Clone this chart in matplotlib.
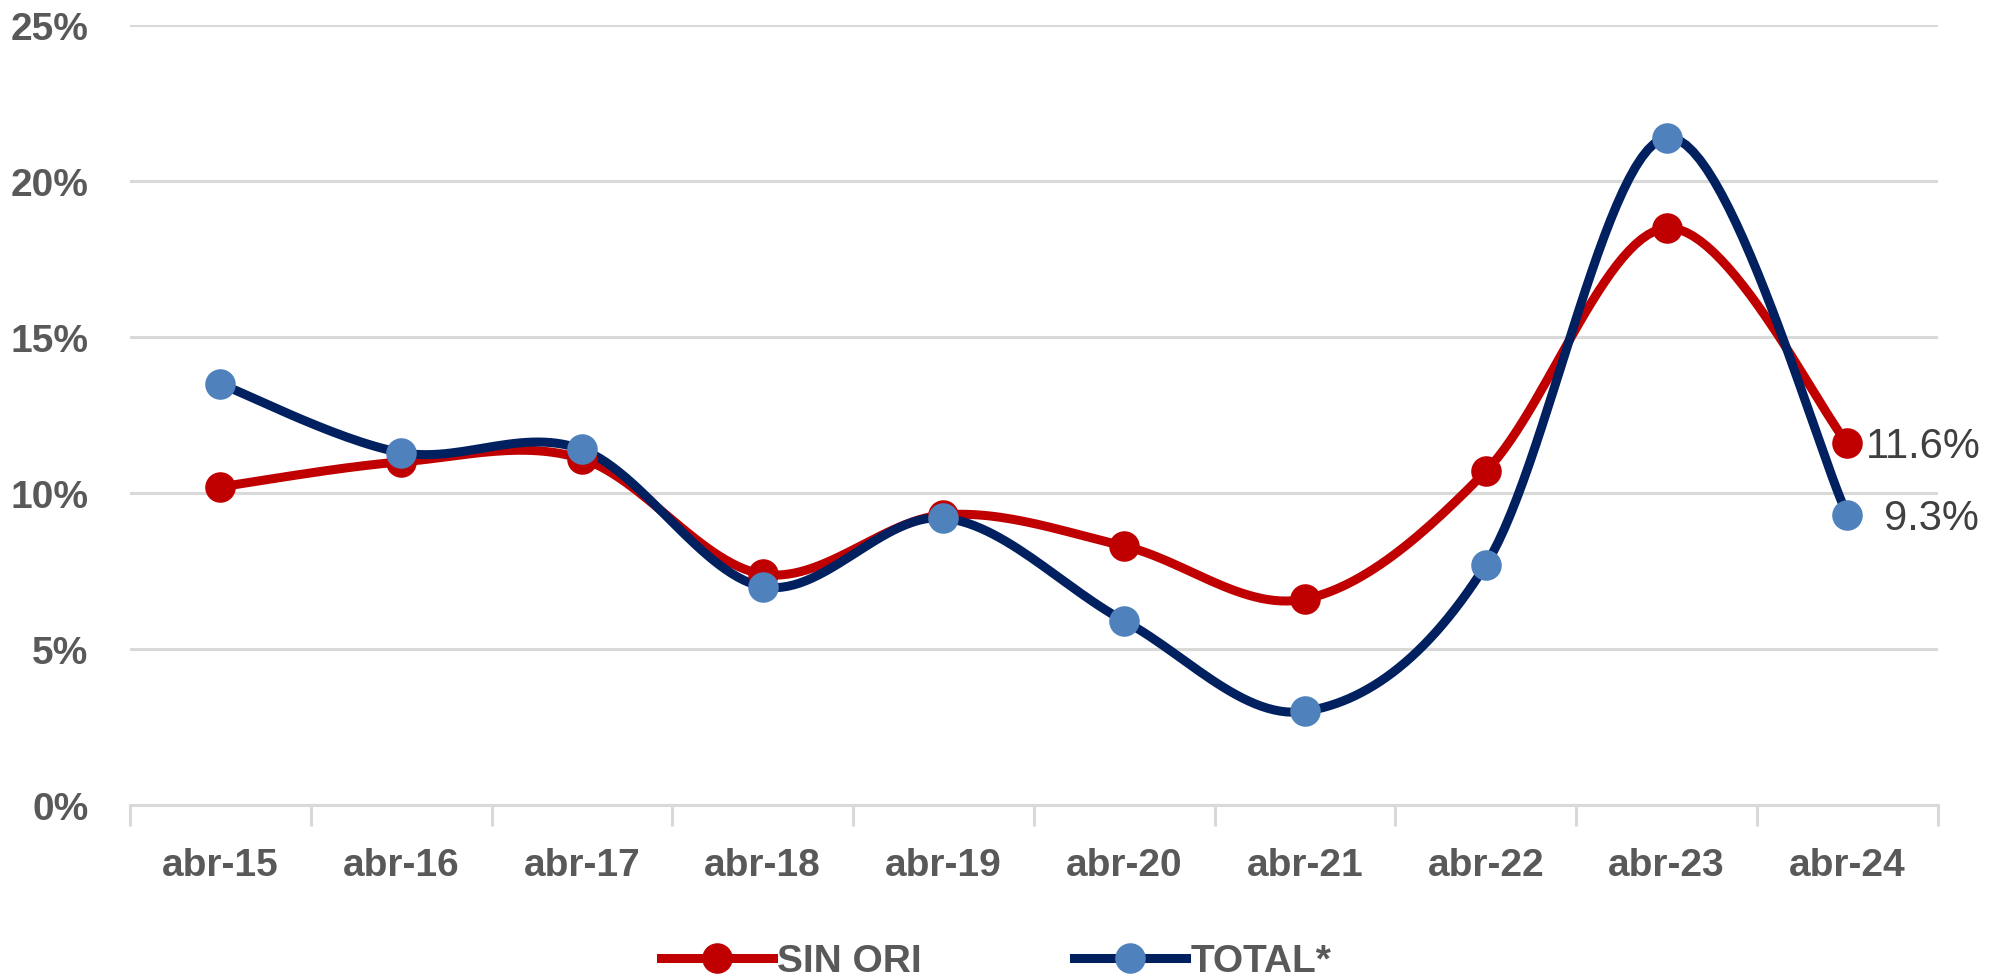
import numpy as np
import matplotlib
matplotlib.use('Agg')
import matplotlib.pyplot as plt
from matplotlib.lines import Line2D

cats = ['abr-15', 'abr-16', 'abr-17', 'abr-18', 'abr-19',
        'abr-20', 'abr-21', 'abr-22', 'abr-23', 'abr-24']
sin_ori = [10.2, 11.0, 11.1, 7.4, 9.3, 8.3, 6.6, 10.7, 18.5, 11.6]
total = [13.5, 11.3, 11.4, 7.0, 9.2, 5.9, 3.0, 7.7, 21.4, 9.3]
yticks = [0, 5, 10, 15, 20, 25]

plt.rcParams['font.family'] = ['Liberation Sans', 'DejaVu Sans']
grey = '#595959'


def smooth(x, y, n=30):
    # excel-like smoothed line (catmull-rom bezier)
    x = np.asarray(x, float); y = np.asarray(y, float)
    px = np.concatenate([[x[0]], x, [x[-1]]])
    py = np.concatenate([[y[0]], y, [y[-1]]])
    xs, ys = [], []
    t = np.linspace(0, 1, n)
    for i in range(1, len(px) - 2):
        p0 = np.array([px[i], py[i]]); p3 = np.array([px[i+1], py[i+1]])
        p1 = p0 + (np.array([px[i+1], py[i+1]]) - np.array([px[i-1], py[i-1]])) / 6
        p2 = p3 - (np.array([px[i+2], py[i+2]]) - np.array([px[i], py[i]])) / 6
        b = ((1-t)**3)[:, None]*p0 + (3*(1-t)**2*t)[:, None]*p1 \
            + (3*(1-t)*t**2)[:, None]*p2 + (t**3)[:, None]*p3
        xs.extend(b[:, 0]); ys.extend(b[:, 1])
    return xs, ys


fig = plt.figure(figsize=(20.12, 9.78), dpi=100)
ax = fig.add_axes([0.0646, 0.176, 0.8985, 0.797])

x = np.arange(len(cats))
for vals, lc, mc in [(sin_ori, '#C00000', '#C00000'), (total, '#002060', '#4F81BD')]:
    sx, sy = smooth(x, vals)
    ax.plot(sx, sy, color=lc, lw=6.5, solid_capstyle='round', zorder=3)
    ax.plot(x, vals, 'o', color=mc, ms=22, mec='none', zorder=4)

ax.text(x[-1] + 0.1, sin_ori[-1] - 0.1, '%.1f%%' % sin_ori[-1], fontsize=30,
        color='#404040', va='center', ha='left', zorder=5)
ax.text(x[-1] + 0.2, total[-1] - 0.1, '%.1f%%' % total[-1], fontsize=30,
        color='#404040', va='center', ha='left', zorder=5)

ax.set_xlim(-0.5, len(cats) - 0.5)
ax.set_ylim(0, 25)
ax.set_yticks(yticks)
ax.set_yticklabels(['%d%%' % v for v in yticks])
ax.yaxis.grid(True, color='#D9D9D9', lw=2.2)
ax.set_axisbelow(True)
ax.tick_params(axis='y', length=0, pad=30, labelsize=28, labelcolor=grey)
for lab in ax.get_yticklabels():
    lab.set_fontweight('bold')

ax.set_xticks(np.arange(-0.5, len(cats), 1.0))
ax.set_xticklabels([])
ax.set_xticks(x, minor=True)
ax.set_xticklabels(cats, minor=True, fontsize=28, color=grey, fontweight='bold')
ax.tick_params(axis='x', which='major', length=15, width=2.2, color='#D9D9D9')
ax.tick_params(axis='x', which='minor', length=0, pad=30)

for s in ['top', 'right', 'left']:
    ax.spines[s].set_visible(False)
ax.spines['bottom'].set_color('#D9D9D9')
ax.spines['bottom'].set_linewidth(2.2)

handles = [Line2D([], [], color='#C00000', lw=6.5, marker='o', ms=22, mfc='#C00000', mec='none'),
           Line2D([], [], color='#002060', lw=6.5, marker='o', ms=22, mfc='#4F81BD', mec='none')]
leg = fig.legend(handles, ['SIN ORI', 'TOTAL*'], loc='center', bbox_to_anchor=(0.495, 0.016),
                 ncol=2, frameon=False, fontsize=28, handlelength=2.9, columnspacing=3.9,
                 handletextpad=0.1)
for t in leg.get_texts():
    t.set_color(grey); t.set_fontweight('bold')

fig.savefig('out.png', dpi=100)
